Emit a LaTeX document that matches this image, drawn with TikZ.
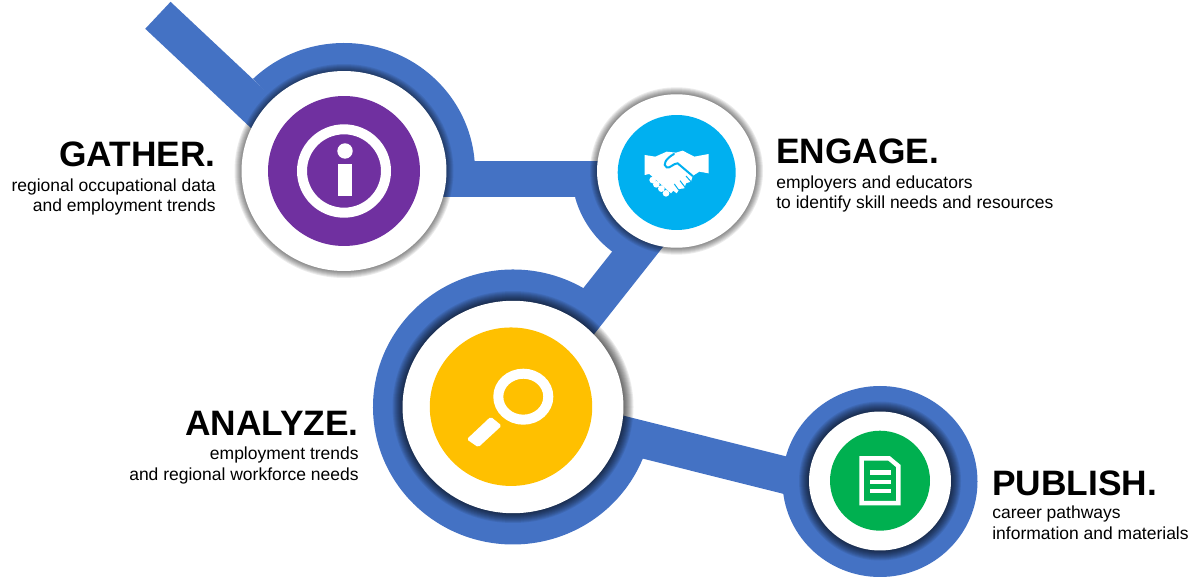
\documentclass[tikz,border=0pt]{standalone}
\usepackage{fontspec}
\setmainfont{Liberation Sans}
\usetikzlibrary{shapes.geometric,calc,backgrounds}
\definecolor{pathblue}{HTML}{4472C4}
\definecolor{gatherpurple}{HTML}{7030A0}
\definecolor{engagecyan}{HTML}{00B0F0}
\definecolor{analyzeyellow}{HTML}{FFC000}
\definecolor{publishgreen}{HTML}{00B050}
\tikzset{
    disc/.style={ellipse, inner sep=0pt, outer sep=0pt},
    bar/.style={draw=pathblue, line width=0.74cm},
    wedge/.style={fill=pathblue},
    iconline/.style={draw=white, line width=0.2cm},
    iconfill/.style={fill=white},
    headtext/.style={font=\fontsize{20.1}{22}\selectfont\bfseries, inner sep=0pt, text=black},
    bodytext/.style={font=\fontsize{9.95}{11.9}\selectfont, inner sep=0pt, text=black},
}
\begin{document}
\begin{tikzpicture}[x=0.02cm, y=-0.02cm]
\useasboundingbox (0,0) rectangle (1200,577);

\node [disc, fill=white, minimum width=4.1cm, minimum height=4cm] (gather) at (344,171) {};
\node [disc, fill=white, minimum width=3.18cm, minimum height=3.07cm] (engage) at (676.5,171) {};
\node [disc, fill=white, minimum width=4.42cm, minimum height=4.25cm] (analyze) at (513,407) {};
\node [disc, fill=white, minimum width=2.84cm, minimum height=2.78cm] (publish) at (880,481) {};

\node [disc, fill=gatherpurple, minimum width=3.04cm, minimum height=3cm] (gathericon) at (344,171) {};
\node [disc, fill=engagecyan, minimum width=2.36cm, minimum height=2.3cm] (engageicon) at (676.7,172.5) {};
\node [disc, fill=analyzeyellow, minimum width=3.25cm, minimum height=3.17cm] (analyzeicon) at (511,406.7) {};
\node [disc, fill=publishgreen, minimum width=2cm, minimum height=2cm] (publishicon) at (880,480.7) {};

\coordinate (pathstart) at (157.9,15.3);

\begin{pgfonlayer}{background}
% blue path
\draw [bar] (pathstart) -- ($(gather.center)+(0,19)$);
\draw [bar] ($(gather.center)+(0,8)$) -- ($(engage.center)+(0,8)$);
\draw [bar] (analyze.center) -- ($(engage.center)+(0,29)$);
\draw [bar] (analyze.center) -- ($(publish.center)+(0,18)$);
\fill [wedge] (gather.center) -- ++(-134:131 and 128) arc [start angle=-134, end angle=0, x radius=131, y radius=128] -- cycle;
\fill [wedge] (engage.center) -- ++(165:105 and 102) arc [start angle=165, end angle=120, x radius=105, y radius=102] -- cycle;
\fill [wedge] (analyze.center) -- ++(-55:140 and 137.5) arc [start angle=-55, end angle=-342, x radius=140, y radius=137.5] -- cycle;
\fill [wedge] (880,481.5) ellipse [x radius=97.5, y radius=95.5];
% soft edges
\foreach \name/\rx/\ry/\spread in {gather/102.5/100/7, engage/79.5/76.7/7, analyze/110.5/106/10, publish/71/69.5/10} {
    \foreach \step in {1,...,\spread} {
        \fill [black, opacity=0.08] (\name.center) ellipse [x radius=\rx+\step, y radius=\ry+\step];
    }
}
\end{pgfonlayer}

% info
\draw [iconline] (gathericon.center) ellipse [x radius=42, y radius=41.7];
\fill [iconfill] (345,151) circle [radius=7.7];
\fill [iconfill] (338,164) rectangle (352,196);

% handshake
\begin{scope}[shift={(636,140)}, x=0.00667cm, y=-0.00667cm]
\fill [iconfill] (26,45) -- (58,50) -- (92,35) -- (120,38) -- (140,32) -- (175,50) -- (218,42) -- (218,100) -- (190,95) -- (170,108) -- (165,125) -- (150,130) -- (145,145) -- (130,147) -- (122,160) -- (112,152) -- (105,160) -- (40,102) -- (26,105) -- cycle;
\foreach \bx/\by in {50/120, 61/133, 76/146, 90/160} {
    \fill [iconfill] (\bx,\by) circle [radius=10];
}
\draw [draw=engagecyan, line width=0.04cm, line cap=round] (114,42) .. controls (90,55) and (78,75) .. (92,82) .. controls (102,86) and (112,70) .. (125,70) -- (170,108);
\draw [draw=engagecyan, line width=0.02cm] (150,108) -- (165,125);
\draw [draw=engagecyan, line width=0.02cm] (132,122) -- (148,143);
\draw [draw=engagecyan, line width=0.02cm] (115,132) -- (128,150);
\end{scope}

% magnifier
\draw [iconline] (523.3,396.7) ellipse [x radius=25, y radius=23];
\fill [iconfill, rounded corners=1pt] (490.7,416.7) -- (501.7,425.7) -- (478.3,447.3) -- (466.7,439.3) -- cycle;

% document
\draw [draw=white, line width=0.09cm] (861.7,458.3) -- (889,458.3) -- (898.3,466) -- (898.3,503) -- (861.7,503) -- cycle;
\foreach \ly in {472.3,482,491} {
    \draw [draw=white, line width=0.09cm] (870,\ly) -- (890.7,\ly);
}

\node [headtext, anchor=base east] (gatherhead) at (216,167) {GATHER.};
\node [bodytext, anchor=base east, align=right] (gatherbody) at (216,212) {regional occupational data\\and employment trends};
\node [headtext, anchor=base west] (engagehead) at (776,164) {ENGAGE.};
\node [bodytext, anchor=base west, align=left] (engagebody) at (776,209) {employers and educators\\to identify skill needs and resources};
\node [headtext, anchor=base east] (analyzehead) at (359,436) {ANALYZE.};
\node [bodytext, anchor=base east, align=right] (analyzebody) at (359,480) {employment trends\\and regional workforce needs};
\node [headtext, anchor=base west] (publishhead) at (992,495) {PUBLISH.};
\node [bodytext, anchor=base west, align=left] (publishbody) at (992,539) {career pathways\\information and materials};
\end{tikzpicture}
\end{document}
